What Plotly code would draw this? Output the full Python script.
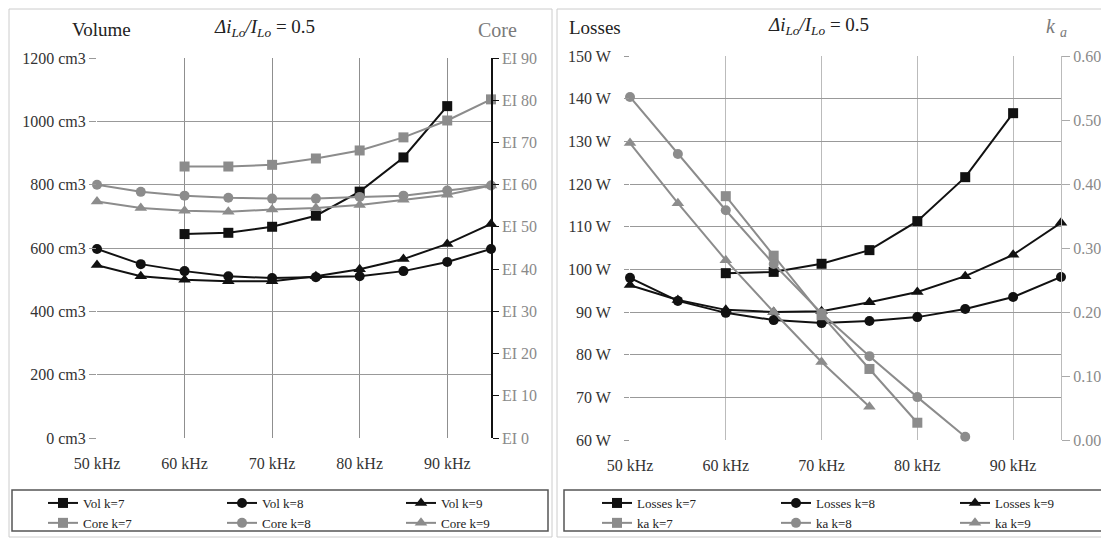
import plotly.graph_objects as go

# ---------------- data ----------------
freq_all = [50, 55, 60, 65, 70, 75, 80, 85, 90, 95]
freq_k7_vol = [60, 65, 70, 75, 80, 85, 90]
freq_k7_core = [60, 65, 70, 75, 80, 85, 90, 95]

vol_k7 = [644, 648, 667, 702, 778, 886, 1048]
vol_k8 = [597, 549, 527, 511, 505, 508, 511, 527, 556, 597]
vol_k9 = [546, 511, 500, 495, 495, 511, 533, 565, 613, 676]

core_k7 = [64.3, 64.3, 64.7, 66.2, 68.1, 71.2, 75.2, 80.2]
core_k8 = [60.0, 58.3, 57.4, 56.9, 56.7, 56.7, 57.1, 57.4, 58.6, 59.8]
core_k9 = [56.0, 54.5, 53.8, 53.6, 54.1, 54.5, 55.2, 56.4, 57.6, 59.8]

freq_k7_loss = [60, 65, 70, 75, 80, 85, 90]
loss_k7 = [99.1, 99.4, 101.3, 104.5, 111.3, 121.6, 136.6]
loss_k8 = [98.0, 92.6, 89.8, 88.1, 87.4, 87.9, 88.8, 90.7, 93.5, 98.2]
loss_k9 = [96.3, 92.8, 90.5, 90.0, 90.2, 92.3, 94.7, 98.4, 103.4, 110.9]

freq_ka7 = [60, 65, 70, 75, 80]
freq_ka8 = [50, 55, 60, 65, 70, 75, 80, 85]
freq_ka9 = [50, 55, 60, 65, 70, 75]
ka_k7 = [0.381, 0.288, 0.195, 0.111, 0.027]
ka_k8 = [0.536, 0.447, 0.359, 0.275, 0.198, 0.131, 0.067, 0.005]
ka_k9 = [0.464, 0.370, 0.281, 0.200, 0.122, 0.052]

x_ticks = [50, 60, 70, 80, 90]
x_ticklabels = ["50 kHz", "60 kHz", "70 kHz", "80 kHz", "90 kHz"]
vol_ticks = [0, 200, 400, 600, 800, 1000, 1200]
vol_ticklabels = ["0 cm3", "200 cm3", "400 cm3", "600 cm3", "800 cm3", "1000 cm3", "1200 cm3"]
core_ticks = [0, 10, 20, 30, 40, 50, 60, 70, 80, 90]
core_ticklabels = ["EI 0", "EI 10", "EI 20", "EI 30", "EI 40", "EI 50", "EI 60", "EI 70", "EI 80", "EI 90"]
loss_ticks = [60, 70, 80, 90, 100, 110, 120, 130, 140, 150]
loss_ticklabels = ["60 W", "70 W", "80 W", "90 W", "100 W", "110 W", "120 W", "130 W", "140 W", "150 W"]
ka_ticks = [0.0, 0.1, 0.2, 0.3, 0.4, 0.5, 0.6]
ka_ticklabels = ["0.00", "0.10", "0.20", "0.30", "0.40", "0.50", "0.60"]

# ---------------- style ----------------
OFF = 8                      # page body margin of the browser
W, H = 1109 - OFF, 539 - OFF
BLACK = "#111111"
GRAY = "#8c8c8c"
FONT = "Liberation Serif"

def px(x):
    return (x - OFF) / W

def py(y):
    return 1 - (y - OFF) / H

fig = go.Figure()

def add(x, y, name, color, symbol, xa, ya, legend, group, size=10):
    fig.add_trace(go.Scatter(
        x=x, y=y, name=name, mode="lines+markers",
        line=dict(color=color, width=2),
        marker=dict(symbol=symbol, size=size, color=color),
        xaxis=xa, yaxis=ya, legend=legend, legendgroup=group, cliponaxis=False,
    ))

# left panel
add(freq_k7_vol, vol_k7, "Vol k=7", BLACK, "square", "x", "y", "legend", "L7")
add(freq_all, vol_k8, "Vol k=8", BLACK, "circle", "x", "y", "legend", "L8")
add(freq_all, vol_k9, "Vol k=9", BLACK, "triangle-up", "x", "y", "legend", "L9", 11)
add(freq_k7_core, core_k7, "Core k=7", GRAY, "square", "x", "y2", "legend", "L7")
add(freq_all, core_k8, "Core k=8", GRAY, "circle", "x", "y2", "legend", "L8")
add(freq_all, core_k9, "Core k=9", GRAY, "triangle-up", "x", "y2", "legend", "L9", 11)

# right panel
add(freq_k7_loss, loss_k7, "Losses k=7", BLACK, "square", "x2", "y3", "legend2", "R7")
add(freq_all, loss_k8, "Losses k=8", BLACK, "circle", "x2", "y3", "legend2", "R8")
add(freq_all, loss_k9, "Losses k=9", BLACK, "triangle-up", "x2", "y3", "legend2", "R9", 11)
add(freq_ka7, ka_k7, "ka k=7", GRAY, "square", "x2", "y4", "legend2", "R7")
add(freq_ka8, ka_k8, "ka k=8", GRAY, "circle", "x2", "y4", "legend2", "R8")
add(freq_ka9, ka_k9, "ka k=9", GRAY, "triangle-up", "x2", "y4", "legend2", "R9", 11)

tickfont = dict(family=FONT, size=16, color="#333333")
grayfont = dict(family=FONT, size=16, color="#8a8a8a")

L = dict(x0=97, x1=491, y0=58, y1=438)
R = dict(x0=630, x1=1061, y0=56, y1=440)

legend_common = dict(orientation="h", xanchor="left", yanchor="top",
                     entrywidth=134, entrywidthmode="pixels", itemwidth=30,
                     font=dict(family=FONT, size=13, color="#222222"),
                     bgcolor="rgba(0,0,0,0)", traceorder="grouped", tracegroupgap=0)

fig.update_layout(
    width=W, height=H,
    margin=dict(l=0, r=0, t=0, b=0, autoexpand=False),
    paper_bgcolor="white", plot_bgcolor="white",
    font=dict(family=FONT, size=14, color="#222222"),
    xaxis=dict(domain=[px(L["x0"]), px(L["x1"])], range=[50, 95], automargin=False,
               tickvals=x_ticks, ticktext=x_ticklabels, tickfont=tickfont,
               showgrid=True, gridcolor="#8f8f8f", gridwidth=1, zeroline=False,
               showline=False, ticks="", ticklabelstandoff=14),
    yaxis=dict(domain=[py(L["y1"]), py(L["y0"])], range=[0, 1200], automargin=False,
               tickvals=vol_ticks, ticktext=vol_ticklabels, tickfont=tickfont,
               showgrid=True, gridcolor="#999999", gridwidth=1, zeroline=False,
               ticks="outside", ticklen=7, tickcolor="#999999", showline=False),
    yaxis2=dict(overlaying="y", side="right", anchor="x", range=[0, 90], automargin=False,
                tickvals=core_ticks, ticktext=core_ticklabels, tickfont=grayfont,
                showgrid=False, zeroline=False, showline=True, linecolor=BLACK,
                linewidth=1.5, ticks="outside", ticklen=6, tickcolor=BLACK),
    yaxis5=dict(overlaying="y", side="right", anchor="x", range=[0, 90], automargin=False,
                tickvals=core_ticks, showticklabels=False,
                showgrid=False, zeroline=False, showline=False,
                ticks="inside", ticklen=6, tickcolor=BLACK),
    xaxis2=dict(domain=[px(R["x0"]), px(R["x1"])], range=[50, 95], anchor="y3", automargin=False,
                tickvals=x_ticks, ticktext=x_ticklabels, tickfont=tickfont,
                showgrid=True, gridcolor="#bbbbbb", gridwidth=1, zeroline=False,
                showline=False, ticks="", ticklabelstandoff=14),
    yaxis3=dict(domain=[py(R["y1"]), py(R["y0"])], range=[60, 150], anchor="x2", automargin=False,
                tickvals=loss_ticks, ticktext=loss_ticklabels, tickfont=tickfont,
                showgrid=True, gridcolor="#999999", gridwidth=1, zeroline=False,
                ticks="outside", ticklen=5, tickcolor="#999999", showline=False,
                ticklabelstandoff=10),
    yaxis4=dict(overlaying="y3", side="right", anchor="x2", range=[0, 0.6], automargin=False,
                tickvals=ka_ticks, ticktext=ka_ticklabels, tickfont=grayfont,
                showgrid=False, zeroline=False, showline=True, linecolor="#bbbbbb",
                ticks="outside", ticklen=8, tickcolor="#aaaaaa"),
    legend=dict(x=px(43), y=py(488), **legend_common),
    legend2=dict(x=px(597), y=py(488), **legend_common),
    showlegend=True,
)

# panel frames and legend boxes (layout decoration)
shapes = []
for (x0, x1) in [(9, 552), (557, 1107)]:
    shapes.append(dict(type="rect", xref="paper", yref="paper",
                       x0=px(x0), x1=px(x1), y0=py(537), y1=py(9),
                       line=dict(color="#cccccc", width=1)))
for (x0, x1) in [(12, 548), (564, 1105)]:
    shapes.append(dict(type="rect", xref="paper", yref="paper",
                       x0=px(x0), x1=px(x1), y0=py(531), y1=py(490),
                       line=dict(color="#555555", width=1.5)))
fig.update_layout(shapes=shapes)

ann = [
    dict(text="Volume", x=px(101), y=py(30)),
    dict(text="<i>Δi<sub>Lo</sub>/I<sub>Lo</sub></i> = 0.5", x=px(264), y=py(28)),
    dict(text="Core", x=px(497), y=py(30), font=dict(family=FONT, size=20, color="#7a7a7a")),
    dict(text="Losses", x=px(595), y=py(28)),
    dict(text="<i>Δi<sub>Lo</sub>/I<sub>Lo</sub></i> = 0.5", x=px(818), y=py(26)),
    dict(text="<i>k</i> <sub><i>a</i></sub>", x=px(1056), y=py(28), font=dict(family=FONT, size=20, color="#7a7a7a")),
]
for a in ann:
    a.setdefault("font", dict(family=FONT, size=19, color="#222222"))
    fig.add_annotation(xref="paper", yref="paper", showarrow=False,
                       xanchor="center", yanchor="middle", **a)

fig.write_html("out.html")
